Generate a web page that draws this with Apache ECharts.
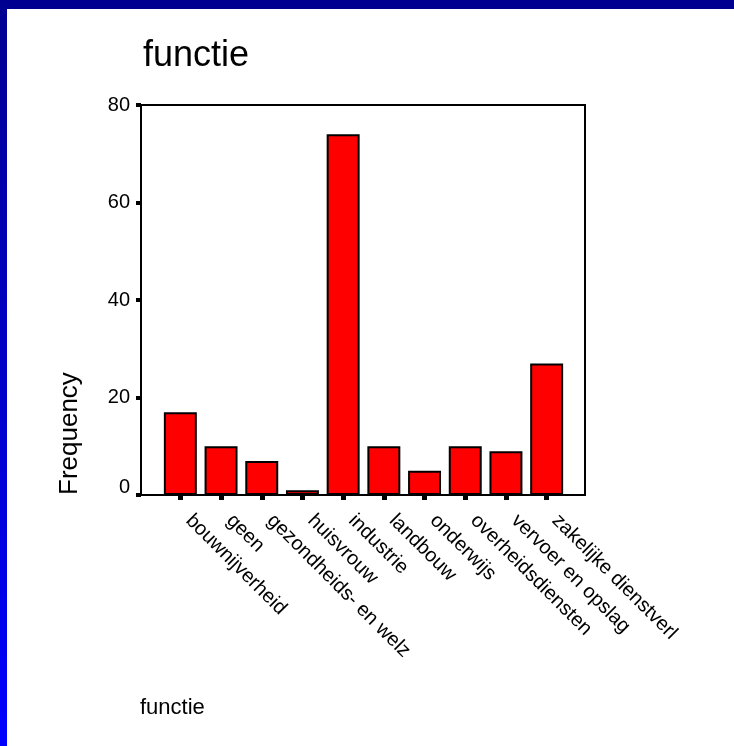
<!DOCTYPE html>
<html>
<head>
<meta charset="utf-8">
<script src="https://cdn.jsdelivr.net/npm/echarts@6/dist/echarts.min.js"></script>
<style>
html,body{margin:0;padding:0;background:#fff;}
#wrap{position:relative;width:734px;height:746px;background:#fff;overflow:hidden;}
#topband{position:absolute;left:0;top:0;width:734px;height:9px;background:#000090;}
#leftband{position:absolute;left:0;top:0;width:7px;height:746px;background:linear-gradient(#000090,#0000ff);}
#chart{position:absolute;left:0;top:0;width:734px;height:746px;}
</style>
</head>
<body>
<div id="wrap">
<div id="topband"></div>
<div id="leftband"></div>
<div id="chart"></div>
</div>
<script>
const categories = ['bouwnijverheid','geen','gezondheids- en welz','huisvrouw','industrie','landbouw','onderwijs','overheidsdiensten','vervoer en opslag','zakelijke dienstverl'];
const frequency = [17, 10, 7, 1, 74, 10, 5, 10, 9, 27];
const yTicks = [0, 20, 40, 60, 80];

const FONT = 'Arial, "Liberation Sans", sans-serif';
const chart = echarts.init(document.getElementById('chart'), null, {renderer:'canvas'});
chart.setOption({
  backgroundColor: 'transparent',
  animation: false,
  title: {
    text: 'functie', left: 138, top: 33,
    textStyle: {fontFamily: FONT, fontSize: 36, fontWeight: 'normal', color: '#000'}
  },
  graphic: [
    {type:'text', x: 70, y: 495, rotation: Math.PI/2,
     style:{text:'Frequency', font: '26px ' + FONT, fill:'#000', textAlign:'left', textVerticalAlign:'middle'}},
    {type:'text', x: 140, y: 708,
     style:{text:'functie', font: '22px ' + FONT, fill:'#000', textAlign:'left', textVerticalAlign:'middle'}}
  ],
  grid: [
    {left: 141, top: 105, width: 444, height: 390, show: true, borderColor: '#000', borderWidth: 2, backgroundColor: 'transparent'},
    {left: 160, top: 105, width: 407, height: 390}
  ],
  xAxis: [
    {gridIndex: 0, type: 'value', min: 0, max: 1, show: false},
    {gridIndex: 1, type: 'category', data: categories,
     axisLine: {show: false},
     axisTick: {show: true, alignWithLabel: true, length: 5, lineStyle: {color: '#000', width: 5}},
     axisLabel: {rotate: -45, margin: 14, interval: 0, color: '#000', fontFamily: FONT, fontSize: 20,
       padding: [0, 0, 0, 12]}}
  ],
  yAxis: [
    {gridIndex: 0, type: 'value', min: yTicks[0], max: yTicks[yTicks.length-1], interval: 20,
     splitLine: {show: false},
     axisLine: {show: false},
     axisTick: {show: true, length: 5, lineStyle: {color: '#000', width: 4}},
     axisLabel: {margin: 11, color: '#000', fontFamily: FONT, fontSize: 20,
       formatter: v => v === 0 ? '{z|0}' : String(v),
       rich: {z: {fontFamily: FONT, fontSize: 20, color: '#000', padding: [0,0,16,0]}}}},
    {gridIndex: 1, type: 'value', min: yTicks[0], max: yTicks[yTicks.length-1], show: false}
  ],
  series: [{
    type: 'bar', xAxisIndex: 1, yAxisIndex: 1, data: frequency,
    barCategoryGap: '19%',
    itemStyle: {color: '#ff0000', borderColor: '#000', borderWidth: 2}
  }]
});
</script>
</body>
</html>
